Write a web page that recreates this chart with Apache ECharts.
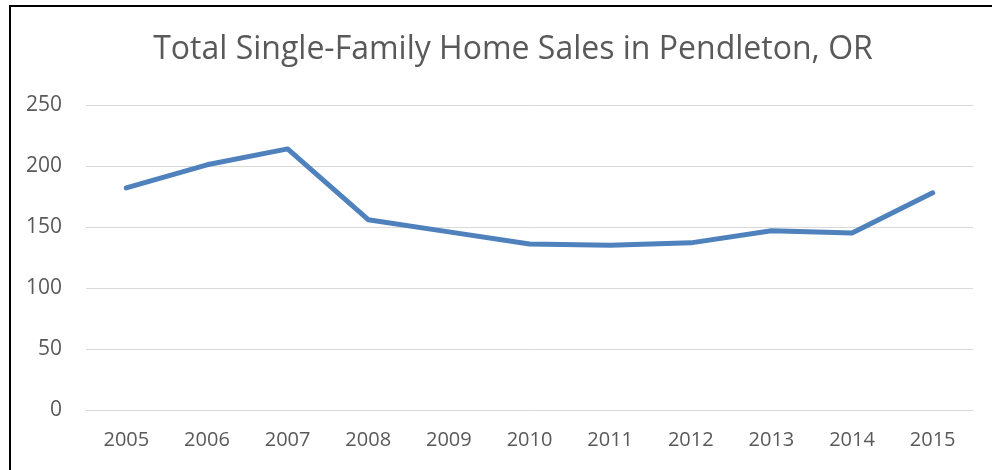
<!DOCTYPE html>
<html>
<head>
<meta charset="utf-8">
<script src="https://cdn.jsdelivr.net/npm/echarts@6/dist/echarts.min.js"></script>
<style>
html,body{margin:0;padding:0;background:#fff;}
#chart{width:992px;height:470px;}
</style>
</head>
<body>
<div id="chart"></div>
<script>
const titleText = 'Total Single-Family Home Sales in Pendleton, OR';
const years = ['2005','2006','2007','2008','2009','2010','2011','2012','2013','2014','2015'];
const sales = [182, 201, 214, 156, 146, 136, 135, 137, 147, 145, 178];
const yTicks = [0, 50, 100, 150, 200, 250];

const chart = echarts.init(document.getElementById('chart'));
chart.setOption({
  animation: false,
  backgroundColor: '#fff',
  title: {
    text: titleText,
    left: 508, top: 29, textAlign: 'center',
    textStyle: {fontFamily: 'Open Sans', fontWeight: 'normal', fontSize: 32, color: '#595959'}
  },
  graphic: [
    {type: 'line', shape: {x1: 9, y1: 6, x2: 992, y2: 6}, style: {stroke: '#000', lineWidth: 2}},
    {type: 'line', shape: {x1: 10, y1: 5, x2: 10, y2: 470}, style: {stroke: '#000', lineWidth: 2}}
  ],
  grid: {left: 86, right: 19, top: 105, bottom: 60, containLabel: false},
  xAxis: {
    type: 'category', data: years, boundaryGap: true,
    axisLine: {show: true, lineStyle: {color: '#d9d9d9', width: 1}},
    axisTick: {show: false},
    axisLabel: {color: '#595959', fontSize: 20, fontFamily: 'Open Sans', margin: 20}
  },
  yAxis: {
    type: 'value', min: yTicks[0], max: yTicks[yTicks.length-1], interval: 50,
    axisLine: {show: false}, axisTick: {show: false},
    splitLine: {lineStyle: {color: '#d9d9d9', width: 1}},
    axisLabel: {color: '#595959', fontSize: 21, fontFamily: 'Open Sans', margin: 24}
  },
  series: [{
    type: 'line', data: sales, symbol: 'none',
    lineStyle: {color: '#4F81BD', width: 5, cap: 'round', join: 'round'}
  }]
});
</script>
</body>
</html>
